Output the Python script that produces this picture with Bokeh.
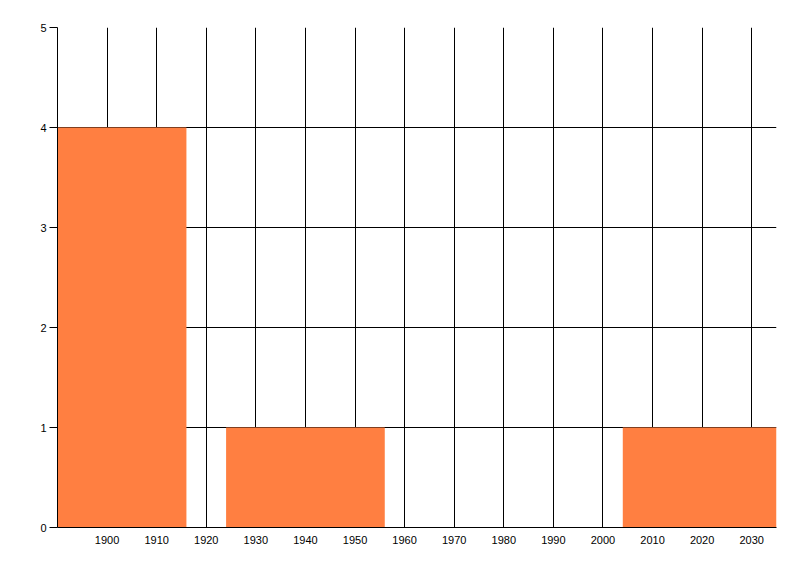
from bokeh.plotting import figure
from bokeh.models import FixedTicker, Range1d
from bokeh.embed import file_html
from bokeh.resources import INLINE

# Data
bin_centers = [1900, 1940, 1980, 2020]
counts = [4, 1, 0, 1]
x_ticks = [1900, 1910, 1920, 1930, 1940, 1950, 1960, 1970, 1980, 1990, 2000, 2010, 2020, 2030]
y_ticks = [0, 1, 2, 3, 4, 5]

BAR_W = 32
FONT = "Liberation Sans"

p = figure(
    frame_width=719, frame_height=500,
    x_range=Range1d(1890, 2035), y_range=Range1d(0, 5),
    output_backend="svg", toolbar_location=None,
    min_border_left=57, min_border_right=16, min_border_top=27, min_border_bottom=41,
)
p.outline_line_color = None
p.background_fill_color = "white"
p.border_fill_color = "white"

p.vbar(x=bin_centers, top=counts, bottom=0, width=BAR_W,
       fill_color="#FF7F41", line_color=None)

# grids
p.xgrid.ticker = FixedTicker(ticks=x_ticks)
p.ygrid.ticker = FixedTicker(ticks=y_ticks)
for g in (p.xgrid, p.ygrid):
    g.grid_line_color = "black"
    g.grid_line_width = 1
    g.grid_line_alpha = 1.0

# x axis
xa = p.xaxis[0]
xa.ticker = FixedTicker(ticks=x_ticks)
xa.major_tick_out = 0
xa.major_tick_in = 0
xa.minor_tick_out = 0
xa.minor_tick_in = 0
xa.axis_line_color = "black"
xa.major_label_standoff = 8
xa.major_label_text_font = FONT
xa.major_label_text_font_size = "11px"
xa.major_label_text_color = "black"

# y axis
ya = p.yaxis[0]
ya.ticker = FixedTicker(ticks=y_ticks)
ya.major_tick_out = 8
ya.major_tick_in = 0
ya.minor_tick_out = 0
ya.minor_tick_in = 0
ya.major_tick_line_color = "black"
ya.axis_line_color = "black"
ya.major_label_standoff = 3
ya.major_label_text_font = FONT
ya.major_label_text_font_size = "11px"
ya.major_label_text_color = "black"

open("out.html", "w").write(file_html(p, INLINE))
